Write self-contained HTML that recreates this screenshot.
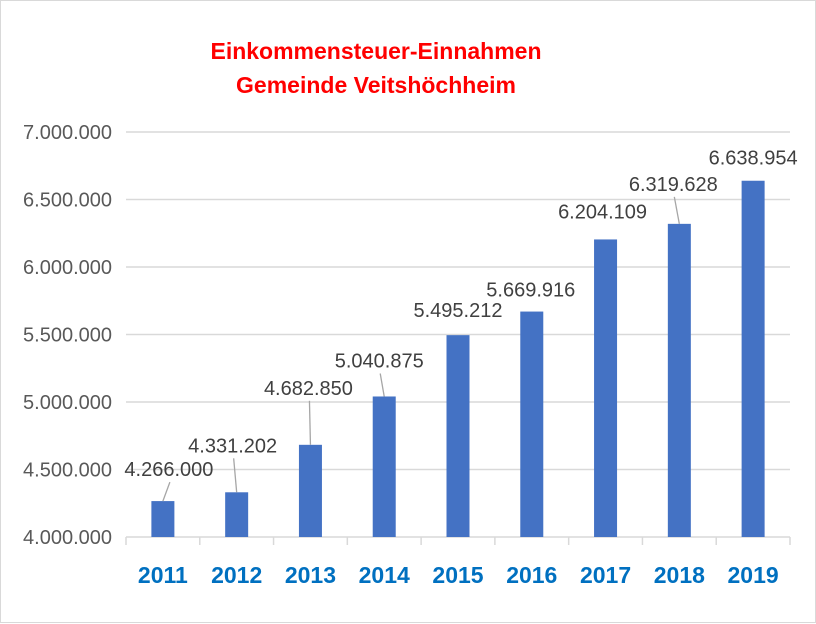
<!DOCTYPE html>
<html><head><meta charset="utf-8"><style>
body{margin:0;background:#fff}
svg{display:block;font-family:"Liberation Sans",Arial,sans-serif}
</style></head><body>
<svg width="816" height="624">
<rect x="0.5" y="0.5" width="815" height="622" fill="#fff" stroke="#d9d9d9"/>
<text x="376" y="59" text-anchor="middle" fill="#ff0000" font-weight="bold" font-size="23">Einkommensteuer-Einnahmen</text>
<text x="376" y="93" text-anchor="middle" fill="#ff0000" font-weight="bold" font-size="23">Gemeinde Veitshöchheim</text>
<g id="grid"></g><g id="bars"></g><g id="labels"></g>
</svg>
<script>
const categories=["2011","2012","2013","2014","2015","2016","2017","2018","2019"];
const values=[4266000,4331202,4682850,5040875,5495212,5669916,6204109,6319628,6638954];
const valueLabels=["4.266.000","4.331.202","4.682.850","5.040.875","5.495.212","5.669.916","6.204.109","6.319.628","6.638.954"];
const yTicks=[4000000,4500000,5000000,5500000,6000000,6500000,7000000];
const yTickLabels=["4.000.000","4.500.000","5.000.000","5.500.000","6.000.000","6.500.000","7.000.000"];
const NS="http://www.w3.org/2000/svg";
const L=126,R=790,T=132,B=537,yMin=4000000,yMax=7000000;
const cw=(R-L)/categories.length;
const y=v=>B-(v-yMin)/(yMax-yMin)*(B-T);
const x=i=>L+cw*(i+0.5);
function mk(tag,at,parent,txt){const e=document.createElementNS(NS,tag);for(const k in at)e.setAttribute(k,at[k]);if(txt!=null)e.textContent=txt;parent.appendChild(e);return e;}
const grid=document.getElementById('grid'),bars=document.getElementById('bars'),labels=document.getElementById('labels');
yTicks.forEach((t,i)=>{
 if(i>0){const g=mk('line',{x1:L,x2:R,y1:y(t),y2:y(t),stroke:'#d9d9d9','stroke-width':1.5},grid);
 
 }
 const tl=mk('text',{x:112,y:y(t)+7,'text-anchor':'end','font-size':20,fill:'#595959'},grid,yTickLabels[i]);
 
 
});
const ax=mk('line',{x1:L,x2:R,y1:B,y2:B,stroke:'#d9d9d9','stroke-width':1.5},grid);


for(let i=0;i<=categories.length;i++){const tk=mk('line',{x1:L+cw*i,x2:L+cw*i,y1:B,y2:B+8,stroke:'#d9d9d9','stroke-width':1.5},grid);
 
 }
// label layout offsets (dx from bar center, gap above bar top), leader flag
const ldx=[6,-4,-2,-5,0,-1,-3,-6,0];
const lgap=[25,40,50,29,18,15,21,33,16];
const leader=[1,1,1,1,0,1,1,1,0];
categories.forEach((c,i)=>{
 const top=y(values[i]);
 const r=mk('rect',{x:x(i)-11.5,y:top,width:23,height:B-top,fill:'#4472c4'},bars);
 
 
 const xl=mk('text',{x:x(i),y:583,'text-anchor':'middle','font-size':23,'font-weight':'bold',fill:'#0070c0'},bars,c);
 
 
 const lx=x(i)+ldx[i],ly=top-lgap[i];
 const t=mk('text',{x:lx,y:ly,'text-anchor':'middle','font-size':20,fill:'#404040'},labels,valueLabels[i]);
 
 
 if(leader[i]&&lgap[i]>22){const ln=mk('line',{x1:lx+1,y1:ly+6,x2:x(i),y2:top,stroke:'#a6a6a6','stroke-width':1.3},labels);
 
 }
});
</script>
</body></html>
